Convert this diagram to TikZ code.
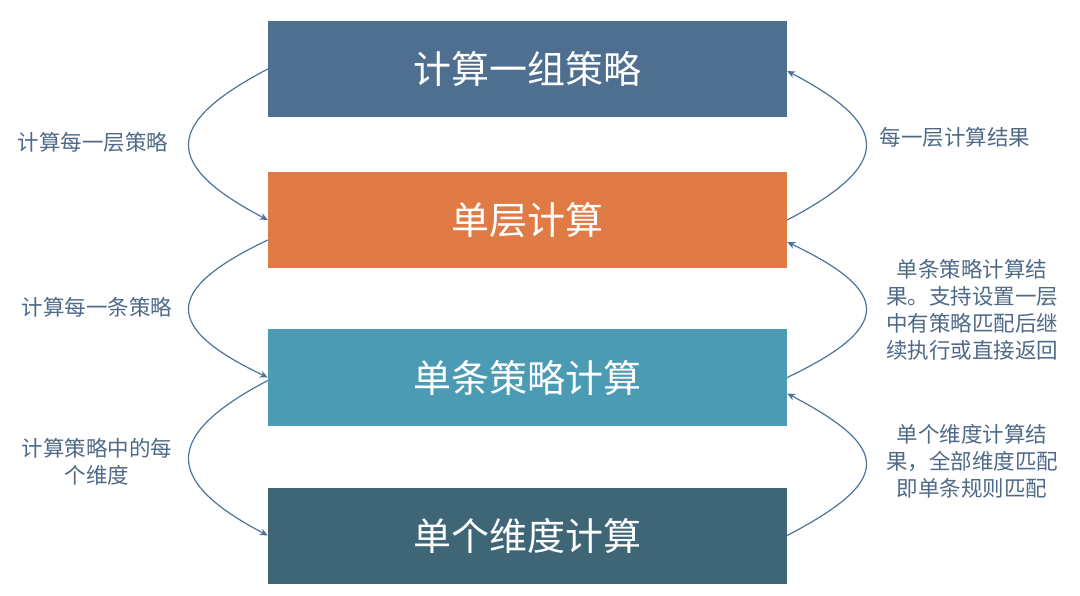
\documentclass[tikz,border=0pt]{standalone}
\usepackage{fontspec}
\newfontfamily\cjk{Noto Sans CJK SC}
\usetikzlibrary{arrows.meta}
\definecolor{cA}{HTML}{4F6F91}
\definecolor{cB}{HTML}{E07B45}
\definecolor{cC}{HTML}{4C9BB5}
\definecolor{cD}{HTML}{3E6676}
\definecolor{lbl}{HTML}{4F6A88}
\definecolor{arr}{HTML}{4E7399}
\begin{document}
\begin{tikzpicture}[x=1pt,y=-1pt,
  box/.style={rectangle, minimum width=519pt, minimum height=96pt, inner sep=0pt,
    text=white, font=\cjk\fontsize{38}{44}\selectfont},
  lab/.style={text=lbl, align=center, inner sep=0pt, font=\cjk\fontsize{21.5}{27}\selectfont},
  con/.style={draw=arr, line width=1.2pt, -{Stealth[length=8pt,width=7pt]}}]
\useasboundingbox (0,0) rectangle (1080,596);
\fill[white] (0,0) rectangle (1080,596);
\node[box, fill=cA] (b1) at (527.5,69) {计算一组策略};
\node[box, fill=cB] (b2) at (527.5,220) {单层计算};
\node[box, fill=cC] (b3) at (527.5,377.5) {单条策略计算};
\node[box, fill=cD] (b4) at (527.5,535.5) {单个维度计算};
% left arrows
\draw[con] (b1.west) .. controls +(-105,55) and +(-105,-55) .. (b2.west);
\draw[con] ([yshift=-20pt]b2.west) .. controls +(-105,50) and +(-105,-50) .. (b3.west);
\draw[con] ([yshift=-3pt]b3.west) .. controls +(-105,55) and +(-105,-55) .. (b4.west);
% right arrows
\draw[con] (b2.east) .. controls +(105,-55) and +(105,55) .. ([yshift=-2pt]b1.east);
\draw[con] (b3.east) .. controls +(105,-50) and +(105,50) .. ([yshift=-22pt]b2.east);
\draw[con] (b4.east) .. controls +(105,-55) and +(105,55) .. ([yshift=-16pt]b3.east);
% labels
\node[lab] (l1) at (93,142) {计算每一层策略};
\node[lab] (l2) at (97,307) {计算每一条策略};
\node[lab] (l3) at (97,462) {计算策略中的每\\个维度};
\node[lab] (r1) at (955,137) {每一层计算结果};
\node[lab] (r2) at (972,310) {单条策略计算结\\果。支持设置一层\\中有策略匹配后继\\续执行或直接返回};
\node[lab] (r3) at (972,461) {单个维度计算结\\果，全部维度匹配\\即单条规则匹配};
\end{tikzpicture}
\end{document}
